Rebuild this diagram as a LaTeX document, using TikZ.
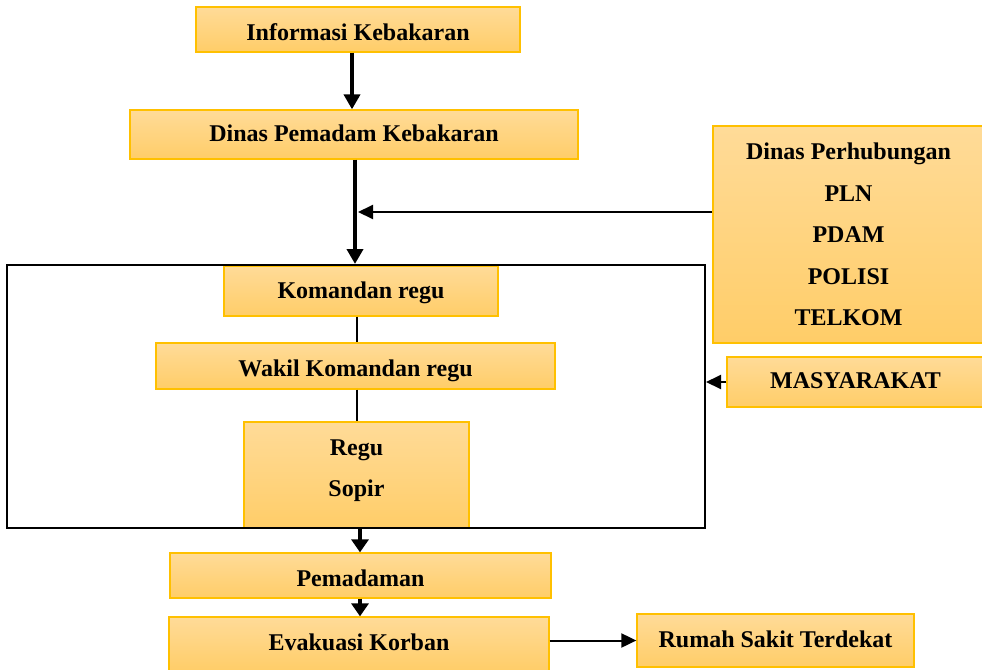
\documentclass[tikz,border=0pt]{standalone}
\usepackage{fontspec}
\setmainfont{Liberation Serif}
\usetikzlibrary{arrows.meta}
\definecolor{boxtop}{RGB}{255,219,152}
\definecolor{boxbot}{RGB}{255,205,104}
\definecolor{boxline}{RGB}{255,192,0}
\tikzset{
  box/.style={draw=boxline, line width=1.3pt, top color=boxtop, bottom color=boxbot,
    inner sep=0pt, font=\fontsize{24}{41.5}\selectfont\bfseries, align=center},
  bl/.style={text height={2*#1 pt+4pt}, text depth=4pt},
  bigarrow/.style={line width=4.5pt, -{Triangle[length=15pt,width=16pt]}},
  lowarrow/.style={line width=4.5pt, -{Triangle[length=13pt,width=17pt]}},
  thinarrow/.style={line width=2pt, -{Triangle[length=15pt,width=14pt]}},
  joinline/.style={line width=2pt}
}
\begin{document}
\begin{tikzpicture}[x=1pt,y=1pt]
\useasboundingbox (0,0) rectangle (982,-669);
\node[box, bl=11, minimum width=324, minimum height=45] (info) at (358,-29.5) {Informasi Kebakaran};
\node[box, bl=7, minimum width=448, minimum height=49] (dinas) at (354,-134.5) {Dinas Pemadam Kebakaran};
\node[box, minimum width=271, minimum height=217] (perhub) at (848.5,-234.5) {Dinas Perhubungan\\PLN\\PDAM\\POLISI\\TELKOM};
\node[box, bl=7.3, minimum width=274, minimum height=50] (kom) at (361,-291) {Komandan regu};
\node[box, bl=10.7, minimum width=399, minimum height=46] (wakil) at (355.5,-366) {Wakil Komandan regu};
\node[box, text depth=14pt, minimum width=225, minimum height=106] (regu) at (356.5,-475) {Regu\\Sopir};
\node[box, bl=6.3, minimum width=257, minimum height=50] (masy) at (855.5,-382) {MASYARAKAT};
\node[box, bl=11, minimum width=381, minimum height=45] (pem) at (360.5,-575.5) {Pemadaman};
\node[box, bl=6.7, minimum width=380, minimum height=54] (evak) at (359,-644) {Evakuasi Korban};
\node[box, bl=7.2, minimum width=277, minimum height=53] (rumah) at (775.5,-640.5) {Rumah Sakit Terdekat};
\node[draw=black, line width=2pt, minimum width=698, minimum height=263, inner sep=0pt] (frame) at (356,-396.5) {};
\coordinate (join) at (358,-212);
% connectors
\draw[bigarrow] (info.south -| 352,0) -- (dinas.north -| 352,0);
\draw[bigarrow] (dinas.south -| 355,0) -- (frame.north -| 355,0);
\draw[thinarrow] (perhub.west |- join) -- (join);
\draw[joinline] (kom.south -| 357,0) -- (wakil.north -| 357,0);
\draw[joinline] (wakil.south -| 357,0) -- (regu.north -| 357,0);
\draw[thinarrow] (masy.west) -- (masy.west -| frame.east);
\draw[lowarrow] (frame.south -| 360,0) -- (pem.north -| 360,0);
\draw[lowarrow] (pem.south -| 360,0) -- (evak.north -| 360,0);
\draw[thinarrow] (rumah.west -| evak.east) -- (rumah.west);
\end{tikzpicture}
\end{document}
